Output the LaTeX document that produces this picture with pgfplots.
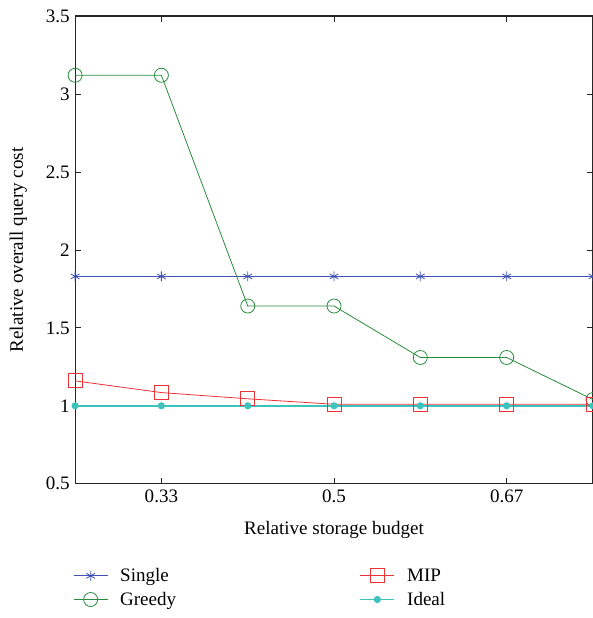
\documentclass[border=0pt]{standalone}
\usepackage{pgfplots}
\pgfplotsset{compat=1.18}
\usepackage{fontspec}
\setmainfont{Liberation Serif}
\definecolor{cSingle}{RGB}{63,81,181}
\definecolor{cGreedy}{RGB}{40,140,60}
\definecolor{cMIP}{RGB}{235,50,55}
\definecolor{cIdeal}{RGB}{60,195,190}
\begin{document}
\begin{tikzpicture}[trim axis right]
\begin{axis}[
  scale only axis,
  width=517pt, height=467pt,
  xmin=0.25, xmax=0.75,
  ymin=0.5, ymax=3.5,
  xtick={0.3333,0.5,0.6667},
  xticklabels={0.33,0.5,0.67},
  ytick={0.5,1,1.5,2,2.5,3,3.5},
  yticklabels={0.5,1,1.5,2,2.5,3,3.5},
  tick align=inside,
  major tick length=6pt,
  axis line style={line width=1.2pt, black!85},
  tick style={line width=0.8pt, black!85},
  tick label style={font=\fontsize{19}{22}\selectfont},
  xticklabel style={yshift=-3pt},
  yticklabel style={xshift=-2pt},
  label style={font=\fontsize{19}{22}\selectfont},
  xlabel={Relative storage budget},
  ylabel={Relative overall query cost},
  xlabel style={yshift=-11pt},
  ylabel style={yshift=12pt},
  clip=false,
  legend columns=2,
  transpose legend,
  legend style={draw=none, fill=none, at={(-0.01,-0.172)}, anchor=north west,
    font=\fontsize{19}{22}\selectfont, row sep=5pt,
    /tikz/every odd column/.append style={column sep=10pt},
    /tikz/every even column/.append style={column sep=181pt}},
  legend cell align=left,
  legend image code/.code={\draw[mark repeat=2,mark phase=2] plot coordinates {(0cm,0cm) (0.6cm,0cm) (1.2cm,0cm)};},
]
\addplot[cSingle, line width=0.8pt, mark=asterisk, mark size=5pt, mark options={line width=0.8pt}]
  coordinates {(0.25,1.83) (0.3333,1.83) (0.4167,1.83) (0.5,1.83) (0.5833,1.83) (0.6667,1.83) (0.75,1.83)};
\addplot[cGreedy, line width=0.8pt, mark=o, mark size=7pt, mark options={line width=0.8pt}]
  coordinates {(0.25,3.12) (0.3333,3.12) (0.4167,1.64) (0.5,1.64) (0.5833,1.31) (0.6667,1.31) (0.75,1.04)};
\addplot[cMIP, line width=0.8pt, mark=square, mark size=7pt, mark options={line width=0.8pt}]
  coordinates {(0.25,1.16) (0.3333,1.085) (0.4167,1.045) (0.5,1.01) (0.5833,1.01) (0.6667,1.01) (0.75,1.01)};
\addplot[cIdeal, line width=1.5pt, mark=*, mark size=2.8pt]
  coordinates {(0.25,1) (0.3333,1) (0.4167,1) (0.5,1) (0.5833,1) (0.6667,1) (0.75,1)};
\legend{Single,Greedy,MIP,Ideal}
\end{axis}
\path ([xshift=-75pt,yshift=16pt]current axis.north west);
\path ([yshift=-134pt]current axis.south west);
\end{tikzpicture}
\end{document}
